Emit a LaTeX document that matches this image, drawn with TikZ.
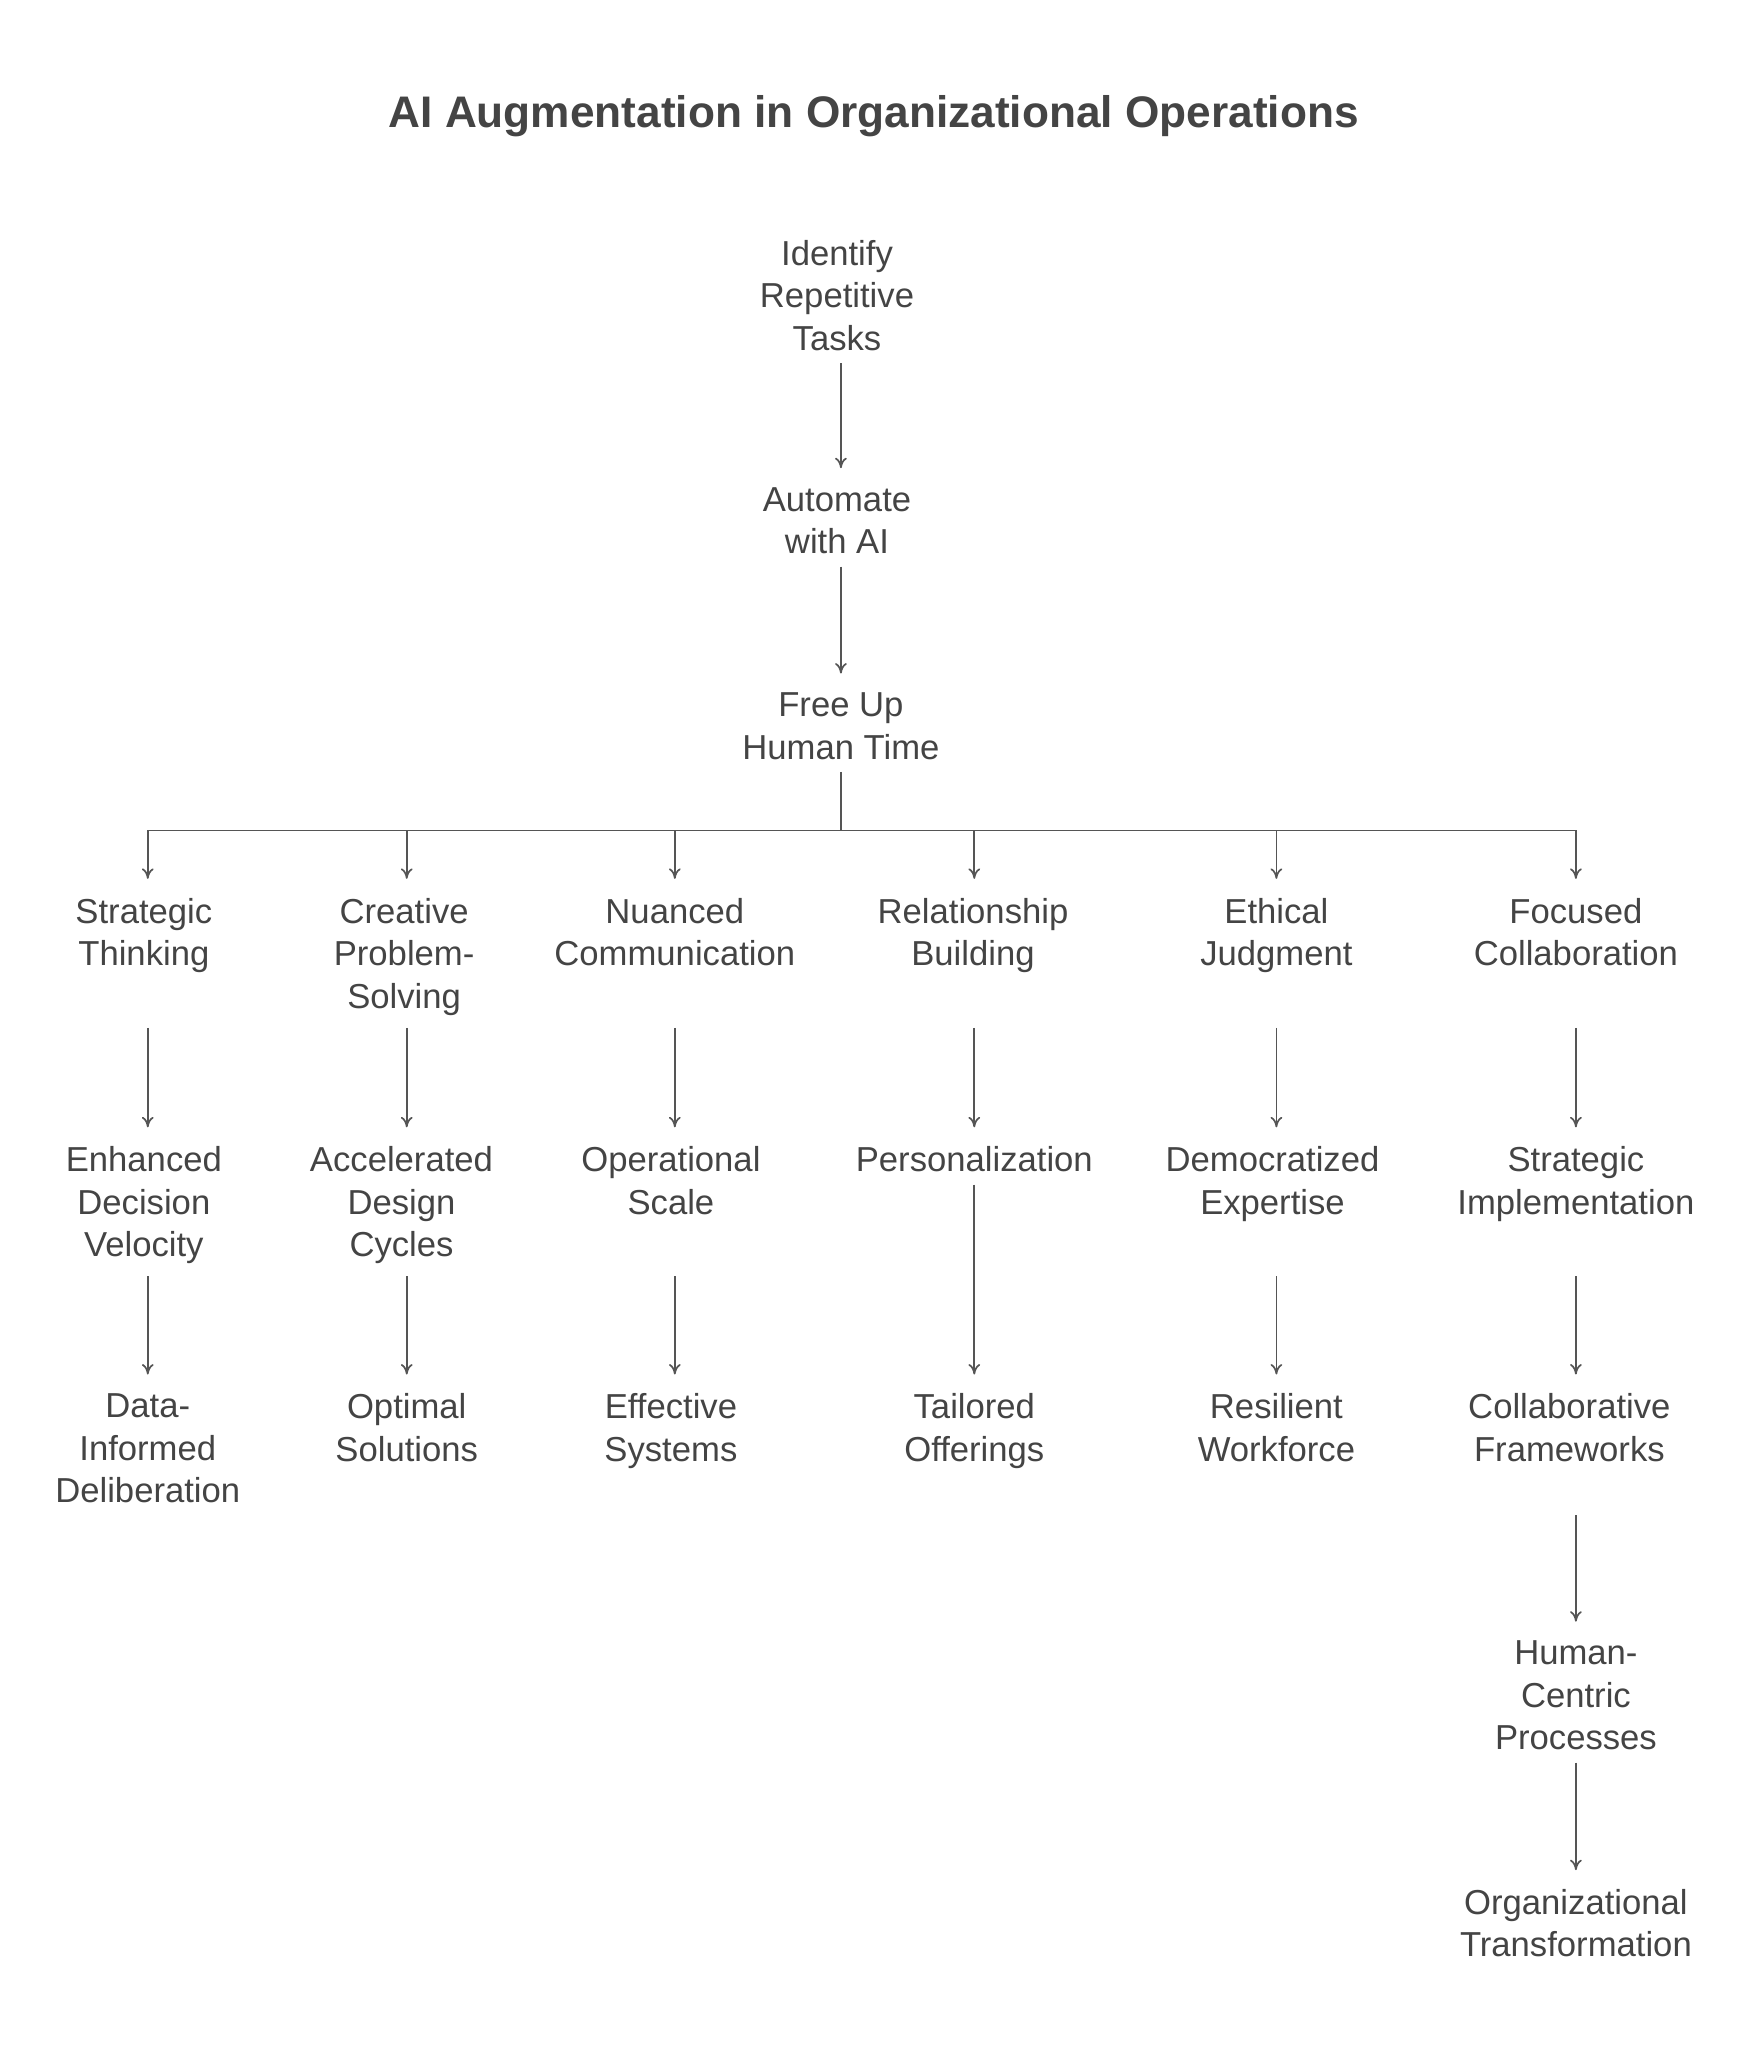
\documentclass[tikz,border=0pt]{standalone}
\usepackage{fontspec}
\setmainfont{Liberation Sans}
\usetikzlibrary{arrows.meta}
\definecolor{txtgray}{RGB}{68,68,68}
\definecolor{lngray}{RGB}{85,85,85}
\tikzset{every picture/.style={line width=1.3pt}}
\tikzset{
  task/.style={anchor=north, align=center, inner sep=9pt, yshift=-5pt, text=txtgray,
    font=\fontsize{26.5}{32.5}\selectfont},
  flow/.style={draw=lngray, shorten >=5pt, -{To[length=8pt,width=9pt]}},
  link/.style={draw=lngray}
}
\begin{document}
\begin{tikzpicture}[x=1pt,y=1pt,yscale=-1,xscale=1]
\useasboundingbox (0,0) rectangle (1334,1566);

% Title
\node (title) [text=txtgray, font=\bfseries\fontsize{33.8}{38}\selectfont] at (668,89) {AI Augmentation in Organizational Operations};

% Trunk
\node (identify) [task] at (640,169) {Identify\\Repetitive\\Tasks};
\node (automate) [task] at (640,358) {Automate\\with AI};
\node (freeup) [task] at (643,515) {Free Up\\Human Time};

% Row 1
\node (strat) [task] at (110,672) {Strategic\\Thinking};
\node (creat) [task] at (309,672) {Creative\\Problem-\\Solving};
\node (nuanc) [task] at (516,672) {Nuanced\\Communication};
\node (relat) [task] at (744,672) {Relationship\\Building};
\node (ethic) [task] at (976,672) {Ethical\\Judgment};
\node (focus) [task] at (1205,672) {Focused\\Collaboration};

% Row 2
\node (enhan) [task] at (110,862) {Enhanced\\Decision\\Velocity};
\node (accel) [task] at (307,862) {Accelerated\\Design\\Cycles};
\node (opsca) [task] at (513,862) {Operational\\Scale};
\node (perso) [task] at (745,862) {Personalization};
\node (democ) [task] at (973,862) {Democratized\\Expertise};
\node (simpl) [task] at (1205,862) {Strategic\\Implementation};

% Row 3
\node (datai) [task] at (113,1051) {Data-\\Informed\\Deliberation};
\node (optim) [task] at (311,1051) {Optimal\\Solutions};
\node (effec) [task] at (513,1051) {Effective\\Systems};
\node (tailo) [task] at (745,1051) {Tailored\\Offerings};
\node (resil) [task] at (976,1051) {Resilient\\Workforce};
\node (colla) [task] at (1200,1051) {Collaborative\\Frameworks};

% Tail
\node (human) [task] at (1205,1240) {Human-\\Centric\\Processes};
\node (organ) [task] at (1205,1430) {Organizational\\Transformation};

\draw [flow] (identify.south -| 643,0) -- (automate.north -| 643,0);
\draw [flow] (automate.south -| 643,0) -- (freeup.north);
\coordinate (bus) at (643,635);
\draw [link] (freeup.south) -- (bus);
\foreach \x in {113,311,516,745,976,1205}
  \draw [flow] (bus) -| (\x,677);
\draw [link] (113,635) -- (1205,635);

% rows start from the tallest node of the row
\foreach \a/\b/\x in {creat/enhan/113,creat/accel/311,creat/opsca/516,creat/perso/745,creat/democ/976,creat/simpl/1205,
  enhan/datai/113,enhan/optim/311,enhan/effec/516,perso/tailo/745,enhan/resil/976,enhan/colla/1205,
  datai/human/1205,human/organ/1205}
  \draw [flow] (\a.south -| \x,0) -- (\b.north -| \x,0);
\end{tikzpicture}
\end{document}
